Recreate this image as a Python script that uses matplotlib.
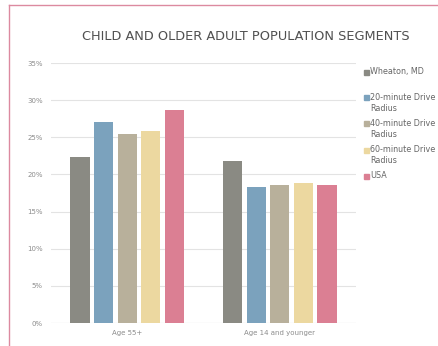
import matplotlib.pyplot as plt
import matplotlib.patches as mpatches
import numpy as np

categories = ["Age 55+", "Age 14 and younger"]
series_names = ["Wheaton, MD", "20-minute Drive\nRadius", "40-minute Drive\nRadius",
                "60-minute Drive\nRadius", "USA"]
values = [
    [22.4, 21.8],
    [27.1, 18.3],
    [25.4, 18.6],
    [25.9, 18.9],
    [28.7, 18.6],
]
colors = ["#8a8a83", "#7ba2bd", "#b8b09b", "#ecd8a0", "#db7f93"]
yticks = [0, 5, 10, 15, 20, 25, 30, 35]

W, H = 438, 346
fig = plt.figure(figsize=(W / 100, H / 100), dpi=100)
ax = fig.add_axes([51 / W, 1 - 323 / H, 305 / W, 260 / H])

x = np.arange(len(categories))
width = 0.125
step = 0.155
for i, (name, vals, c) in enumerate(zip(series_names, values, colors)):
    ax.bar(x + (i - 2) * step, vals, width, color=c, label=name, zorder=3)

ax.set_xlim(-0.5, 1.5)
ax.set_ylim(0, 35)
ax.set_yticks(yticks)
ax.set_yticklabels([f"{t}%" for t in yticks])
ax.set_xticks(x)
ax.set_xticklabels(categories)
ax.tick_params(axis="both", length=0, labelsize=5, colors="#8c8c8c", pad=6)
ax.tick_params(axis="x", pad=5)
ax.grid(axis="y", color="#e3e3e3", linewidth=0.8, zorder=0)
for s in ax.spines.values():
    s.set_visible(False)
ax.axhline(0, color="#d9d9d9", linewidth=0.8, zorder=2)

fig.text(246 / W, 1 - 36 / H, "CHILD AND OLDER ADULT POPULATION SEGMENTS",
         ha="center", va="center", fontsize=9.3, color="#505050")

# legend: evenly spaced slots like the spreadsheet original
for i, (name, c) in enumerate(zip(series_names, colors)):
    yc = 72 + 26 * i
    fig.add_artist(mpatches.Rectangle((364 / W, 1 - (yc + 2.5) / H), 5 / W, 5 / H,
                                      transform=fig.transFigure, color=c))
    fig.text(370 / W, 1 - (yc - 5) / H, name, ha="left", va="top",
             fontsize=5.8, color="#666666", linespacing=1.35)

# pink frame around the chart
fig.add_artist(plt.Line2D([9 / W, 9 / W], [0, 1 - 5 / H],
                          transform=fig.transFigure, color="#dc8aa0", linewidth=1))
fig.add_artist(plt.Line2D([9 / W, 1], [1 - 5 / H, 1 - 5 / H],
                          transform=fig.transFigure, color="#dc8aa0", linewidth=1))

fig.savefig("out.png", dpi=100)
